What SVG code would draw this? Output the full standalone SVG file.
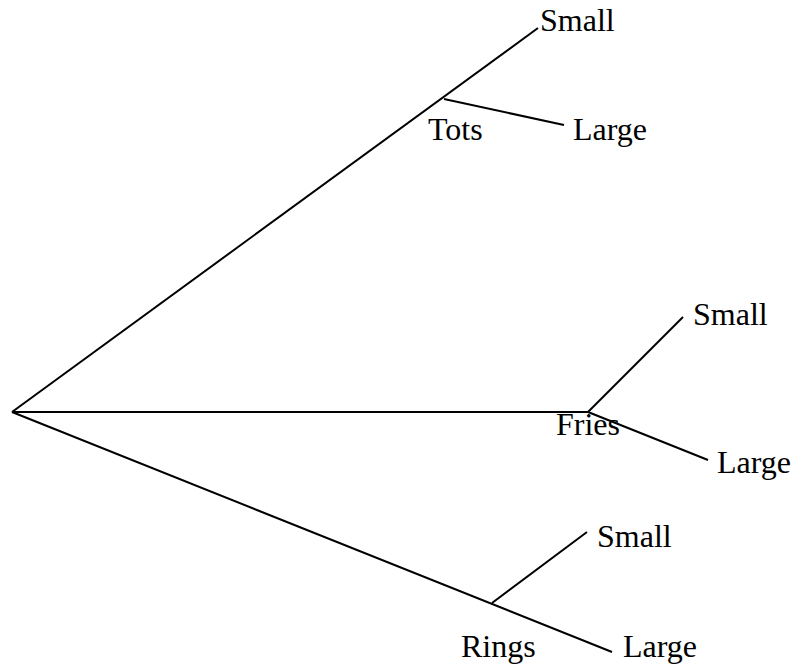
<svg xmlns="http://www.w3.org/2000/svg" width="795" height="671" viewBox="0 0 795 671">
<style>
.e{stroke:#000;stroke-width:2;fill:none;stroke-linecap:butt}
text{font-family:"Liberation Serif","Times New Roman",serif;font-size:32px;fill:#000}
</style>
<rect width="795" height="671" fill="#fff"/>
<g id="connectors">
<line class="e" x1="12" y1="412" x2="538" y2="28"/>
<line class="e" x1="444" y1="99" x2="564" y2="125"/>
<line class="e" x1="12" y1="412" x2="588" y2="412"/>
<line class="e" x1="588" y1="412" x2="683" y2="317"/>
<line class="e" x1="588" y1="412" x2="708" y2="460"/>
<line class="e" x1="12" y1="412" x2="612" y2="652"/>
<line class="e" x1="492" y1="603" x2="587" y2="532"/>
</g>
<g id="tots"><text x="428" y="140">Tots</text></g>
<g id="tots-small"><text x="540" y="31">Small</text></g>
<g id="tots-large"><text x="573" y="140">Large</text></g>
<g id="fries"><text x="556" y="435">Fries</text></g>
<g id="fries-small"><text x="693" y="325">Small</text></g>
<g id="fries-large"><text x="717" y="473">Large</text></g>
<g id="rings"><text x="461" y="657">Rings</text></g>
<g id="rings-small"><text x="597" y="547">Small</text></g>
<g id="rings-large"><text x="623" y="657">Large</text></g>
</svg>
